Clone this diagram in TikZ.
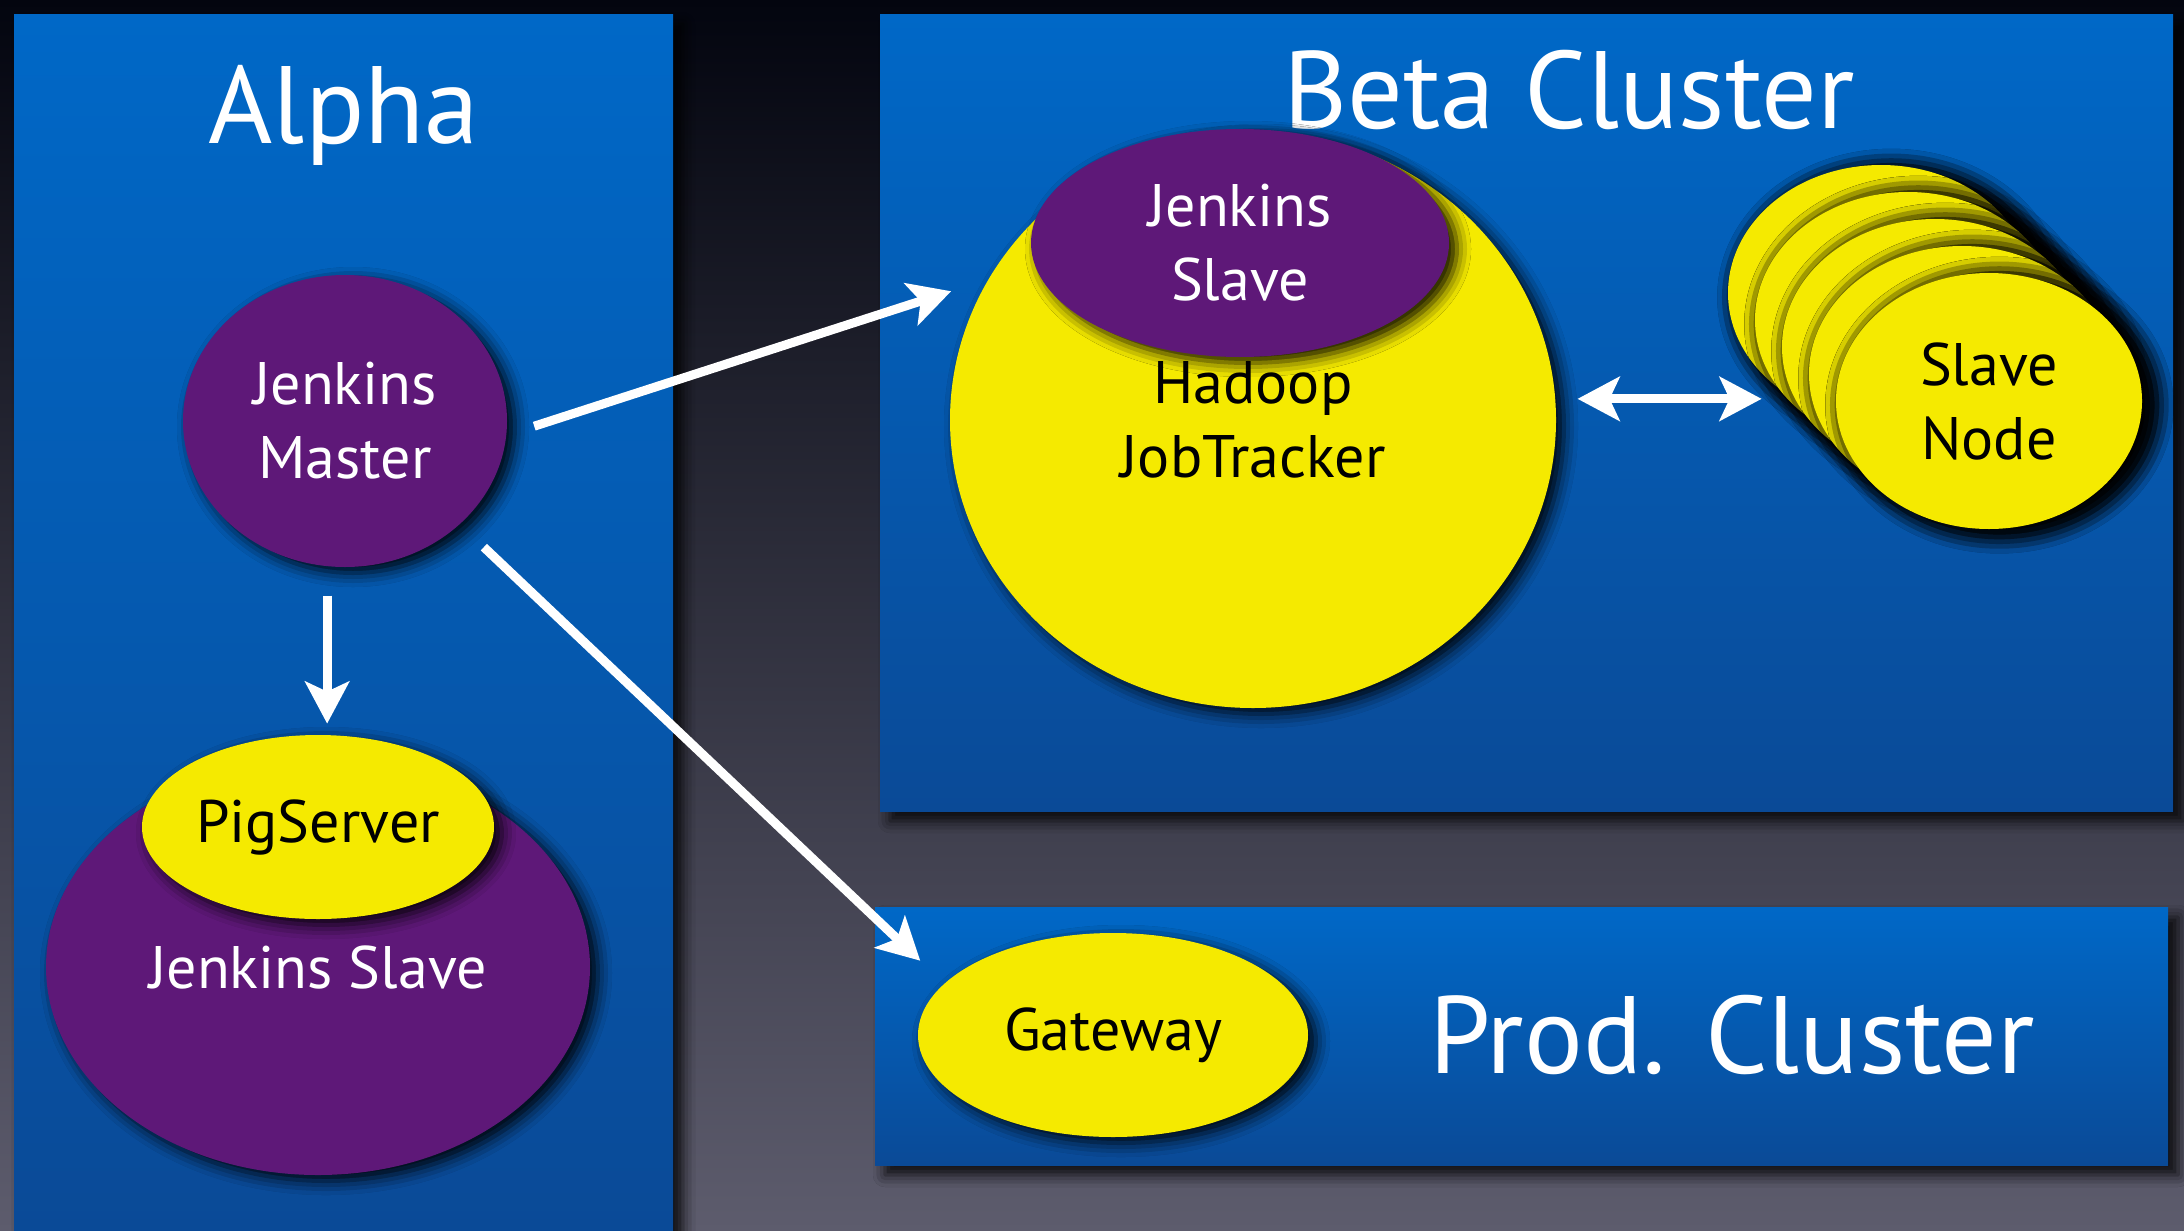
\documentclass[tikz,border=0pt]{standalone}
\usepackage{fontspec}
\setmainfont{PT Sans}
\usetikzlibrary{shapes.geometric,shadows.blur,arrows.meta}

\definecolor{nightsky}{HTML}{03050F}
\definecolor{dusk}{HTML}{5D5C6D}
\definecolor{paneltop}{HTML}{0068C7}
\definecolor{panelbot}{HTML}{0A4A97}
\definecolor{grape}{HTML}{5E1878}
\definecolor{lemon}{HTML}{F5EA00}

\tikzset{
  panel/.style={top color=paneltop, bottom color=panelbot,
    blur shadow={shadow xshift=5pt, shadow yshift=-5pt, shadow blur radius=6pt, shadow opacity=85}},
  blob/.style={ellipse, inner sep=0pt, align=center, font=\fontsize{30}{37}\selectfont,
    blur shadow={shadow xshift=4pt, shadow yshift=-3pt, shadow blur radius=7pt, shadow opacity=95}},
  purpleblob/.style={blob, fill=grape, text=white},
  yellowblob/.style={blob, fill=lemon, text=black},
  stackblob/.style={yellowblob, minimum width=153pt, minimum height=128pt,
    blur shadow={shadow xshift=5pt, shadow yshift=-2pt, shadow scale=1.03, shadow blur radius=8pt, shadow opacity=100}},
  title/.style={text=white, anchor=base, font=\fontsize{55}{60}\selectfont},
  arr/.style={-{Stealth[length=21pt, width=22pt, inset=5pt]}, line width=4.5pt, white},
  dblarr/.style={{Stealth[length=21pt, width=22pt, inset=5pt]}-{Stealth[length=21pt, width=22pt, inset=5pt]}, line width=4.5pt, white},
}

\begin{document}
\begin{tikzpicture}[x=0.5pt, y=-0.5pt]
\useasboundingbox (0,0) rectangle (2184,1231);
\fill[top color=nightsky, bottom color=dusk] (0,0) rectangle (2184,1231);

% the three areas
\fill[panel] (14,14) rectangle (673,1231);
\fill[panel] (880,14) rectangle (2173,811);
\fill[panel] (875,907) rectangle (2168,1165);

\node[title] (alphatitle) at (344,143) {Alpha};
\node[title] (betatitle) at (1569,128) {Beta Cluster};
\node[title] (prodtitle) at (1732,1073) {Prod. Cluster};

% alpha
\node[purpleblob, minimum width=162pt, minimum height=146pt] (master) at (345,421) {Jenkins\\Master};
\node[purpleblob, minimum width=272pt, minimum height=208pt] (alphaslave) at (318,967) {Jenkins Slave};
\node[yellowblob, minimum width=176pt, minimum height=92pt] (pig) at (318,827) {PigServer};

% beta
\node[yellowblob, minimum width=303pt, minimum height=288pt] (tracker) at (1253,420) {Hadoop\\JobTracker};
\node[purpleblob, minimum width=209pt, minimum height=114pt] (betaslave) at (1240,243) {Jenkins\\Slave};
\foreach \k in {4,3,2,1}
  \node[stackblob] (stack\k) at ({1989-27*\k},{401-27*\k}) {};
\node[stackblob] (slavenode) at (1989,401) {Slave\\Node};

% prod
\node[yellowblob, minimum width=195pt, minimum height=102pt] (gateway) at (1113,1035) {Gateway};

\draw[arr, shorten <=14.5pt, shorten >=5.5pt] (master.263) -- (master.263 |- pig.north);
\draw[arr, shorten <=14.5pt, shorten >=19.5pt] (master.-5) -- (tracker.152);
\draw[arr, shorten <=16.5pt, shorten >=16.5pt] (master.-42) -- (gateway.163);
\draw[dblarr, shorten <=11pt, shorten >=37pt] (tracker.4) -- (tracker.4 -| slavenode.west);
\end{tikzpicture}
\end{document}
